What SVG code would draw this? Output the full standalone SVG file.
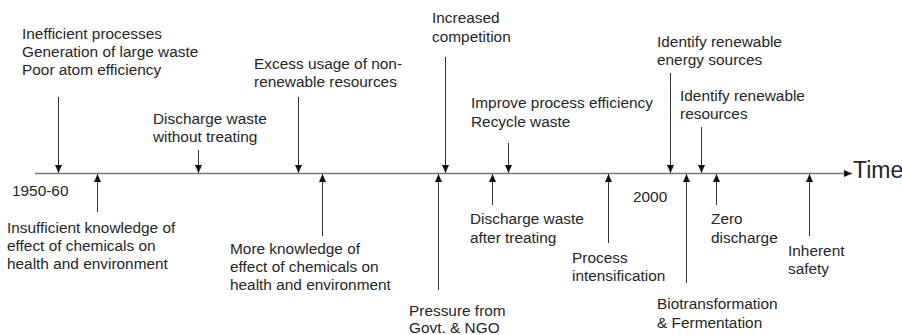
<svg xmlns="http://www.w3.org/2000/svg" width="902" height="335" viewBox="0 0 902 335">
  <style>
    text { font-family: "Liberation Sans", Arial, sans-serif; font-size: 15.4px; fill: #262626; }
    .time { font-size: 23px; }
    .axis { stroke: #777; stroke-width: 1.3; fill: none; }
    .ev { stroke: #333; stroke-width: 1; fill: none; marker-end: url(#tip); }
  </style>
  <defs>
    <marker id="tip" markerUnits="userSpaceOnUse" markerWidth="8" markerHeight="7" refX="8" refY="3.5" orient="auto">
      <path d="M0,0 L8,3.5 L0,7 z" fill="#111"/>
    </marker>
  </defs>
  <rect width="902" height="335" fill="#fff"/>

  <!-- connectors -->
  <g id="connectors">
    <line class="axis" x1="35" y1="173.5" x2="852" y2="173.5" marker-end="url(#tip)"/>
    <!-- events above the axis -->
    <line class="ev" x1="58.5" y1="97" x2="58.5" y2="173"/>
    <line class="ev" x1="198.5" y1="150" x2="198.5" y2="173"/>
    <line class="ev" x1="298.5" y1="97" x2="298.5" y2="173"/>
    <line class="ev" x1="445.5" y1="57" x2="445.5" y2="173"/>
    <line class="ev" x1="508.5" y1="143" x2="508.5" y2="173"/>
    <line class="ev" x1="670.5" y1="73" x2="670.5" y2="173"/>
    <line class="ev" x1="701.5" y1="127" x2="701.5" y2="173"/>
    <!-- events below the axis -->
    <line class="ev" x1="97.5" y1="212" x2="97.5" y2="174"/>
    <line class="ev" x1="322.5" y1="236" x2="322.5" y2="174"/>
    <line class="ev" x1="438.5" y1="290" x2="438.5" y2="174"/>
    <line class="ev" x1="492.5" y1="205" x2="492.5" y2="174"/>
    <line class="ev" x1="608.5" y1="243" x2="608.5" y2="174"/>
    <line class="ev" x1="686.5" y1="283" x2="686.5" y2="174"/>
    <line class="ev" x1="716.5" y1="205" x2="716.5" y2="174"/>
    <line class="ev" x1="809.5" y1="236" x2="809.5" y2="174"/>
  </g>

  <g id="axis-label"><text class="time" x="853" y="178">Time</text></g>
  <g id="year-1950"><text x="12" y="196">1950-60</text></g>
  <g id="year-2000"><text x="633" y="202">2000</text></g>

  <!-- labels above the axis -->
  <g id="inefficient">
    <text x="22" y="39">Inefficient processes</text>
    <text x="22" y="57">Generation of large waste</text>
    <text x="22" y="75">Poor atom efficiency</text>
  </g>
  <g id="discharge-untreated">
    <text x="153" y="124">Discharge waste</text>
    <text x="153" y="142">without treating</text>
  </g>
  <g id="excess-usage">
    <text x="254" y="69">Excess usage of non-</text>
    <text x="254" y="87">renewable resources</text>
  </g>
  <g id="competition">
    <text x="432" y="23">Increased</text>
    <text x="432" y="42">competition</text>
  </g>
  <g id="improve-efficiency">
    <text x="471" y="108">Improve process efficiency</text>
    <text x="471" y="127">Recycle waste</text>
  </g>
  <g id="renewable-energy">
    <text x="657" y="47">Identify renewable</text>
    <text x="657" y="65">energy sources</text>
  </g>
  <g id="renewable-resources">
    <text x="680" y="101">Identify renewable</text>
    <text x="680" y="119">resources</text>
  </g>

  <!-- labels below the axis -->
  <g id="insufficient-knowledge">
    <text x="7" y="233">Insufficient knowledge of</text>
    <text x="7" y="251">effect of chemicals on</text>
    <text x="7" y="269">health and environment</text>
  </g>
  <g id="more-knowledge">
    <text x="230" y="254">More knowledge of</text>
    <text x="230" y="272">effect of chemicals on</text>
    <text x="230" y="290">health and environment</text>
  </g>
  <g id="pressure">
    <text x="409" y="316">Pressure from</text>
    <text x="409" y="333">Govt. &amp; NGO</text>
  </g>
  <g id="discharge-treated">
    <text x="470" y="224">Discharge waste</text>
    <text x="470" y="243">after treating</text>
  </g>
  <g id="intensification">
    <text x="572" y="263">Process</text>
    <text x="572" y="281">intensification</text>
  </g>
  <g id="biotransformation">
    <text x="657" y="309">Biotransformation</text>
    <text x="657" y="328">&amp; Fermentation</text>
  </g>
  <g id="zero-discharge">
    <text x="711" y="224">Zero</text>
    <text x="711" y="243">discharge</text>
  </g>
  <g id="inherent-safety">
    <text x="788" y="256">Inherent</text>
    <text x="788" y="274">safety</text>
  </g>
</svg>
